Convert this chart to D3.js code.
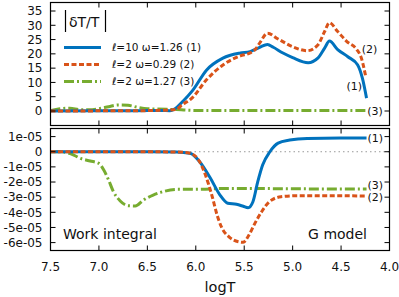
<!DOCTYPE html>
<html>
<head>
<meta charset="utf-8">
<script src="https://d3js.org/d3.v7.min.js"></script>
<style>
  body { margin: 0; background: #fff; }
  text { font-family: "DejaVu Sans", sans-serif; fill: #111; }
</style>
</head>
<body>
<div id="chart"></div>
<script>
// x axis ticks (logT, reversed)
var xTicks = [7.5, 7.0, 6.5, 6.0, 5.5, 5.0, 4.5, 4.0];
var xTickLabels = ["7.5", "7.0", "6.5", "6.0", "5.5", "5.0", "4.5", "4.0"];

// top panel |dT/T|
var topTicks = [0, 5, 10, 15, 20, 25, 30, 35];
var topTickLabels = ["0", "5", "10", "15", "20", "25", "30", "35"];

// bottom panel, values in units of 1e-05
var botTicks = [1, 0, -1, -2, -3, -4, -5, -6];
var botTickLabels = ["1e-05", "0", "-1e-05", "-2e-05", "-3e-05", "-4e-05", "-5e-05", "-6e-05"];

var seriesNames = ["\u2113=10 \u03c9=1.26 (1)", "\u2113=2 \u03c9=0.29 (2)", "\u2113=2 \u03c9=1.27 (3)"];

// [logT, value]
var blueTop = [[7.5,0],[7.0,0.05],[6.6,0.1],[6.35,0.2],[6.27,0.1],[6.23,0.5],[6.13,3.5],[6.03,7.3],[5.89,14.3],
  [5.72,18.5],[5.54,20.3],[5.44,20.8],[5.34,22.3],[5.26,23.3],[5.2,22.3],[5.1,20.3],[5.0,18.7],[4.84,16.9],
  [4.74,18.5],[4.67,22],[4.62,24.5],[4.535,21.5],[4.43,19],[4.33,16.2],[4.28,11.5],[4.237,4.5]];
var redTop = [[7.5,0],[7.0,0.05],[6.6,0.1],[6.3,0.3],[6.2,0.6],[6.14,2.2],[6.04,4.5],[5.89,10.9],[5.72,16.1],
  [5.54,19.3],[5.44,20.3],[5.38,21.8],[5.34,23.8],[5.26,27.2],[5.15,25.2],[5.0,22.5],[4.85,21.1],[4.74,23.1],
  [4.67,27.8],[4.62,30.9],[4.535,27.8],[4.44,24.3],[4.34,21.6],[4.29,18.5],[4.245,12]];
var greenTop = [[7.5,0.1],[7.4,0.8],[7.3,1.0],[7.2,0.5],[7.1,0.4],[7.0,0.8],[6.9,1.5],[6.8,2.1],[6.7,2.0],
  [6.6,1.3],[6.5,0.8],[6.4,0.7],[6.3,0.6],[6.2,0.5],[6.1,0.3],[6.0,0.2],[5.5,0.15],[5.0,0.15],[4.5,0.15],[4.24,0.15]];

var blueBot = [[7.5,0],[6.5,0],[6.2,-0.02],[6.06,-0.1],[5.96,-0.66],[5.85,-1.74],[5.75,-2.86],[5.67,-3.4],
  [5.58,-3.47],[5.51,-3.6],[5.46,-3.7],[5.41,-3.3],[5.36,-1.98],[5.31,-0.88],[5.235,0],[5.15,0.57],
  [5.03,0.77],[4.85,0.88],[4.5,0.9],[4.237,0.9]];
var redBot = [[7.5,0],[6.5,0],[6.2,-0.02],[6.06,-0.1],[5.96,-0.66],[5.9,-1.54],[5.83,-2.97],[5.78,-4.18],
  [5.73,-5.04],[5.66,-5.6],[5.56,-5.94],[5.51,-5.98],[5.46,-5.6],[5.39,-4.73],[5.32,-3.96],[5.24,-3.3],
  [5.12,-2.97],[4.95,-2.9],[4.237,-2.92]];
var greenBot = [[7.5,0],[7.4,0],[7.26,-0.22],[7.19,-0.44],[7.09,-0.61],[7.0,-0.77],[6.95,-1.2],[6.9,-1.87],
  [6.85,-2.64],[6.78,-3.25],[6.7,-3.56],[6.625,-3.58],[6.54,-3.19],[6.44,-2.86],[6.34,-2.64],[6.19,-2.48],
  [5.99,-2.48],[5.65,-2.42],[4.93,-2.45],[4.237,-2.46]];

var colors = ["#0072bd", "#d95319", "#77ac30"];
var dashes = [null, "5,2.5", "10,3,2,3"];

var width = 399, height = 297;
var left = 50.5, right = 389.5;

var svg = d3.select("#chart").append("svg")
  .attr("width", width)
  .attr("height", height);

var x = d3.scaleLinear().domain([7.5, 4.0]).range([left, right]);

var panels = [
  {top: 2.5, bottom: 125.5, y: d3.scaleLinear().domain([0, 35]).range([111, 11]),
   ticks: topTicks, labels: topTickLabels, series: [blueTop, redTop, greenTop], xlabels: false},
  {top: 128.5, bottom: 250.5, y: d3.scaleLinear().domain([-6, 1]).range([242.6, 136.6]),
   ticks: botTicks, labels: botTickLabels, series: [blueBot, redBot, greenBot], xlabels: true}
];

panels.forEach(function (p) {
  var g = svg.append("g");
  var tl = 5;

  if (p.xlabels) {
    g.append("line")
      .attr("x1", left).attr("x2", right)
      .attr("y1", p.y(0)).attr("y2", p.y(0))
      .attr("stroke", "#999")
      .attr("stroke-width", 1)
      .attr("stroke-dasharray", "1.5,3");
  }

  var line = d3.line()
    .x(function (d) { return x(d[0]); })
    .y(function (d) { return p.y(d[1]); })
    .curve(d3.curveMonotoneX);

  // green first, then blue, red dashes on top
  [2, 0, 1].forEach(function (i) {
    g.append("path")
      .datum(p.series[i])
      .attr("fill", "none")
      .attr("stroke", colors[i])
      .attr("stroke-width", 3)
      .attr("stroke-dasharray", dashes[i])
      .attr("d", line);
  });

  // ticks on all four sides, pointing inward
  xTicks.forEach(function (t, i) {
    g.append("line").attr("x1", x(t)).attr("x2", x(t))
      .attr("y1", p.top).attr("y2", p.top + tl).attr("stroke", "#000");
    g.append("line").attr("x1", x(t)).attr("x2", x(t))
      .attr("y1", p.bottom).attr("y2", p.bottom - tl).attr("stroke", "#000");
    if (p.xlabels) {
      g.append("text")
        .attr("x", x(t)).attr("y", 270.5)
        .attr("text-anchor", "middle")
        .style("font-size", "12px")
        .text(xTickLabels[i]);
    }
  });

  p.ticks.forEach(function (t, i) {
    g.append("line").attr("x1", left).attr("x2", left + tl)
      .attr("y1", p.y(t)).attr("y2", p.y(t)).attr("stroke", "#000");
    g.append("line").attr("x1", right).attr("x2", right - tl)
      .attr("y1", p.y(t)).attr("y2", p.y(t)).attr("stroke", "#000");
    g.append("text")
      .attr("x", left - 8).attr("y", p.y(t))
      .attr("dy", "0.36em")
      .attr("text-anchor", "end")
      .style("font-size", "12px")
      .text(p.labels[i]);
  });

  g.append("rect")
    .attr("x", left).attr("y", p.top)
    .attr("width", right - left).attr("height", p.bottom - p.top)
    .attr("fill", "none")
    .attr("stroke", "#000")
    .attr("stroke-width", 1.2);
});

// end labels (1) (2) (3)
var endLabels = [
  {p: 0, s: 0, text: "(1)", dx: -20, dy: -12},
  {p: 0, s: 1, text: "(2)", dx: -4, dy: -28},
  {p: 0, s: 2, text: "(3)", dx: 1, dy: 0},
  {p: 1, s: 0, text: "(1)", dx: 1, dy: 0},
  {p: 1, s: 2, text: "(3)", dx: 1, dy: -4},
  {p: 1, s: 1, text: "(2)", dx: 1, dy: 1}
];
endLabels.forEach(function (l) {
  var p = panels[l.p];
  var last = p.series[l.s][p.series[l.s].length - 1];
  svg.append("text")
    .attr("x", x(last[0]) + l.dx)
    .attr("y", p.y(last[1]) + l.dy)
    .attr("dy", "0.36em")
    .style("font-size", "11px")
    .text(l.text);
});

// |dT/T| label
svg.append("text")
  .attr("x", 69).attr("y", 26.5)
  .style("font-size", "14px")
  .text("\u03b4T/T");
[65.5, 105.5].forEach(function (bx) {
  svg.append("line")
    .attr("x1", bx).attr("x2", bx)
    .attr("y1", 10).attr("y2", 32)
    .attr("stroke", "#000").attr("stroke-width", 1.2);
});

// legend
seriesNames.forEach(function (name, i) {
  var ly = 47.5 + i * 17;
  svg.append("line")
    .attr("x1", 64).attr("x2", 101)
    .attr("y1", ly).attr("y2", ly)
    .attr("stroke", colors[i])
    .attr("stroke-width", 3)
    .attr("stroke-dasharray", dashes[i]);
  svg.append("text")
    .attr("x", 112).attr("y", ly)
    .attr("dy", "0.36em")
    .style("font-size", "10.5px")
    .text(name);
});

svg.append("text")
  .attr("x", 63).attr("y", 239)
  .style("font-size", "14px")
  .text("Work integral");
svg.append("text")
  .attr("x", 367).attr("y", 239)
  .attr("text-anchor", "end")
  .style("font-size", "14px")
  .text("G model");

svg.append("text")
  .attr("x", (left + right) / 2).attr("y", 292)
  .attr("text-anchor", "middle")
  .style("font-size", "14.5px")
  .text("logT");
</script>
</body>
</html>
